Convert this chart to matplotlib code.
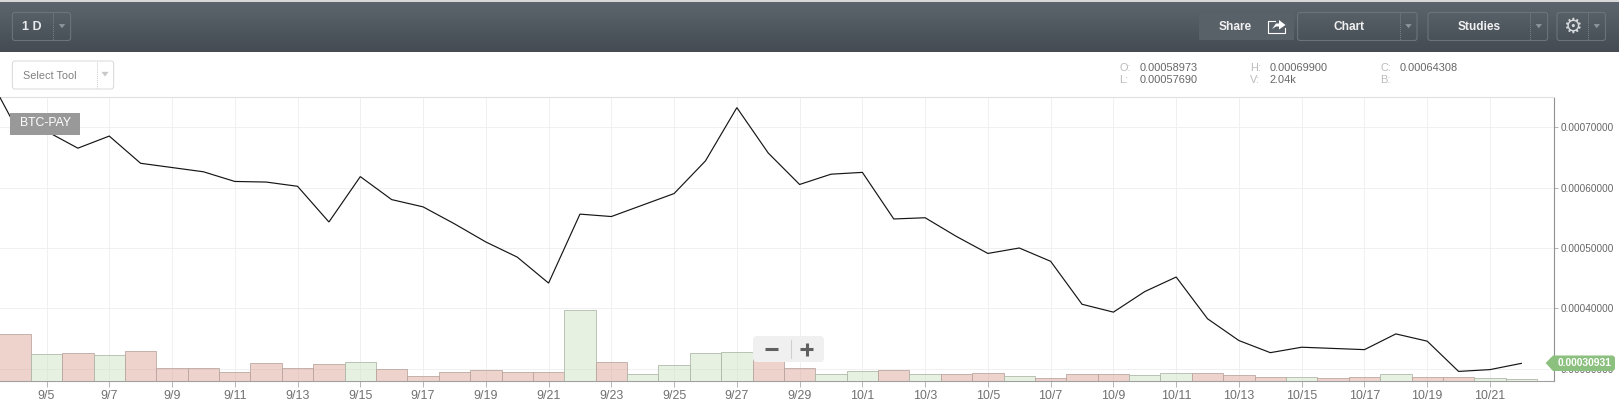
import matplotlib
matplotlib.use("Agg")
import matplotlib.pyplot as plt
import numpy as np
from matplotlib.patches import FancyBboxPatch, Rectangle, Polygon

plt.rcParams['font.family'] = ['Liberation Sans', 'DejaVu Sans']

W, H = 1619, 405

dates = ["9/3","9/4","9/5","9/6","9/7","9/8","9/9","9/10","9/11","9/12","9/13","9/14","9/15","9/16",
         "9/17","9/18","9/19","9/20","9/21","9/22","9/23","9/24","9/25","9/26","9/27","9/28","9/29","9/30",
         "10/1","10/2","10/3","10/4","10/5","10/6","10/7","10/8","10/9","10/10","10/11","10/12","10/13",
         "10/14","10/15","10/16","10/17","10/18","10/19","10/20","10/21","10/22"]
close = [0.000799,0.000702,0.000693,0.000665,0.000685,0.000640,0.000633,0.000626,0.000610,0.000609,
         0.000602,0.000543,0.000618,0.000580,0.000568,0.000540,0.000510,0.000485,0.000442,0.000556,
         0.000552,0.000571,0.000590,0.000644,0.000732,0.000657,0.000605,0.000622,0.000625,0.000548,
         0.000550,0.000519,0.000491,0.000500,0.000478,0.000407,0.000394,0.000428,0.000452,0.000383,
         0.000347,0.000327,0.000336,0.000334,0.000332,0.000358,0.000346,0.000296,0.000299,0.00030931]
vol_dates = dates[1:]
volume = [47.3,27,28,26,30,13,13,9,18,13,17,19,12,5,9,11,9,9,71.3,19,7,16,28,29,24,13,7,10,11,7,7,8,5,3,
          7,7,6,8,8,6,4,4,3,4,7,4,4,3,2]
vol_up = [0,1,0,1,0,0,0,0,0,0,0,1,0,0,0,0,0,0,1,0,1,1,1,1,0,0,1,1,0,1,0,0,1,0,0,0,1,1,0,0,0,1,0,0,1,0,0,1,1]
x_ticks = ["9/5","9/7","9/9","9/11","9/13","9/15","9/17","9/19","9/21","9/23","9/25","9/27","9/29",
           "10/1","10/3","10/5","10/7","10/9","10/11","10/13","10/15","10/17","10/19","10/21"]
y_ticks = [0.0003,0.0004,0.0005,0.0006,0.0007]

fig = plt.figure(figsize=(W/100, H/100), dpi=100, facecolor='white')

# chart geometry
AX_R, AX_T, AX_B = 1553.5, 97, 381
PX_DAY, PX_95 = 31.38, 46.5
rect = [0, (H-AX_B)/H, AX_R/W, (AX_B-AX_T)/H]
ax = fig.add_axes(rect, zorder=1)
idx = {d: i for i, d in enumerate(dates)}
xlim = (idx["9/5"]-PX_95/PX_DAY, idx["9/5"]+(AX_R-PX_95)/PX_DAY)
ax.set_xlim(xlim)
ax.set_ylim(0.0007-(AX_B-127)/60.5*1e-4, 0.0007+(127-AX_T)/60.5*1e-4)
ax.plot([idx[d] for d in dates], close, color='#151515', lw=0.85, solid_joinstyle='miter', zorder=3)
ax.set_xticks([idx[d] for d in x_ticks])
ax.set_xticklabels(x_ticks, fontsize=8.9, color='#707070')
ax.yaxis.tick_right()
ax.set_yticks(y_ticks)
ax.set_yticklabels([f"{v:.8f}" for v in y_ticks], fontsize=7.2, color='#666666')
ax.tick_params(axis='x', length=4, width=0.6, color='#aaaaaa', pad=2.2)
ax.tick_params(axis='y', length=3, width=0.6, color='#aaaaaa', pad=2)
ax.grid(True, color='#eeeeee', lw=0.6)
ax.set_axisbelow(True)
for s, c in (('top', '#e0e0e0'), ('left', 'white'), ('right', '#909090'), ('bottom', '#a0a0a0')):
    ax.spines[s].set_color(c)
    ax.spines[s].set_linewidth(0.8)
ax.spines['left'].set_visible(False)

# volume
av = fig.add_axes(rect, zorder=2)
av.patch.set_alpha(0)
av.axis('off')
av.set_xlim(xlim)
av.set_ylim(0, AX_B-AX_T)
for d, v, u in zip(vol_dates, volume, vol_up):
    face = (0.80, 0.89, 0.76, 0.48) if u else (0.86, 0.62, 0.56, 0.45)
    edge = '#b0b9ab' if u else '#bca8a2'
    av.bar(idx[d], v, width=1.0, facecolor=face, edgecolor=edge, linewidth=0.6)

# interface overlay, in pixel coordinates
ui = fig.add_axes([0, 0, 1, 1], zorder=5)
ui.set_xlim(0, W)
ui.set_ylim(H, 0)
ui.axis('off')
ui.patch.set_alpha(0)

grad = np.linspace(0, 1, 64)[:, None, None]
top_c = np.array([0x5c, 0x65, 0x6d])/255
bot_c = np.array([0x44, 0x4b, 0x52])/255
ui.imshow(top_c*(1-grad)+bot_c*grad, extent=(0, W, 52, 2), aspect='auto', zorder=1)
ui.set_xlim(0, W)
ui.set_ylim(H, 0)
ui.add_patch(Rectangle((0, 0), W, 2, fc='#d8d8d8', ec='none', zorder=1))


def box(x0, x1, y0, y1, ec, fc='none', r=2.5, lw=0.8, z=2, **kw):
    ui.add_patch(FancyBboxPatch((x0, y0), x1-x0, y1-y0, boxstyle=f"round,pad=0,rounding_size={r}",
                                fc=fc, ec=ec, lw=lw, zorder=z, mutation_aspect=1, **kw))


def tri(x, y, c, s=3.2):
    ui.add_patch(Polygon([(x-s, y-s*0.6), (x+s, y-s*0.6), (x, y+s*0.7)], fc=c, ec='none', zorder=3))


BC = '#6b747b'
for x0, x1, xd in ((12.4, 70.6, 53.4), (1297.6, 1417, 1400), (1428, 1547.6, 1530), (1557, 1605.5, 1588)):
    box(x0, x1, 12.5, 40.5, BC)
    ui.plot([xd, xd], [13, 40], color='#7c848a', lw=0.7, ls=(0, (1, 1)), zorder=3)
    tri((xd+x1)/2, 26, '#8d959b')
ui.text(32, 26.5, "1 D", color='#e8eaeb', fontsize=9, fontweight='bold', ha='center', va='center', zorder=4)
ui.add_patch(Rectangle((1199, 13), 94.5, 27, fc='#596168', ec='none', zorder=2))
ui.text(1235, 26.5, "Share", color='#f0f0f0', fontsize=8.6, fontweight='bold', ha='center', va='center', zorder=4)
ui.text(1348.6, 26.5, "Chart", color='#f0f0f0', fontsize=8.6, fontweight='bold', ha='center', va='center', zorder=4)
ui.text(1479, 26.5, "Studies", color='#f0f0f0', fontsize=8.6, fontweight='bold', ha='center', va='center', zorder=4)
ui.plot([1275, 1268, 1268, 1285, 1285], [21, 21, 32.5, 32.5, 28], color='white', lw=0.8, zorder=4)
ui.add_patch(Polygon([(1272, 29), (1276, 23.5), (1279, 23.5), (1279, 20), (1285.5, 25), (1279, 29.5), (1279, 26.5), (1276, 26.5)],
                     fc='white', ec='none', zorder=4))
ui.text(1572.4, 26.5, "\u2699", color='#d6d9db', fontsize=15, family='DejaVu Sans', ha='center', va='center', zorder=4)

box(12.4, 113.6, 61, 89, '#dddddd', fc='white')
ui.plot([97, 97], [62, 88], color='#cccccc', lw=0.7, ls=(0, (1, 1)), zorder=3)
tri(105, 74, '#c8c8c8', s=3.6)
ui.text(23, 75.7, "Select Tool", color='#808080', fontsize=7.8, ha='left', va='center', zorder=4)

for lab, val, xl, xv, y in (("O:", "0.00058973", 1119.6, 1139.6, 67.8), ("L:", "0.00057690", 1119.6, 1139.6, 79.8),
                            ("H:", "0.00069900", 1250, 1269.7, 67.8), ("V:", "2.04k", 1250, 1269.7, 79.8),
                            ("C:", "0.00064308", 1380, 1400, 67.8), ("B:", "", 1380, 1400, 79.8)):
    ui.text(xl, y, lab, color='#bbbbbb', fontsize=7.9, ha='left', va='center', zorder=4)
    ui.text(xv, y, val, color='#666666', fontsize=7.9, ha='left', va='center', zorder=4)

ui.add_patch(Rectangle((10, 113), 70, 22, fc='#999999', ec='none', zorder=4))
ui.text(45, 123.5, "BTC-PAY", color='white', fontsize=8.8, ha='center', va='center', zorder=5)

box(753, 824, 336, 362, 'none', fc='#f0f0f0', r=4)
ui.plot([790.5, 790.5], [340, 358], color='#cfcfcf', lw=0.8, zorder=3)
ui.plot([765, 778], [349, 349], color='#606060', lw=2.2, solid_capstyle='butt', zorder=4)
ui.plot([800, 813], [349, 349], color='#606060', lw=2.2, solid_capstyle='butt', zorder=4)
ui.plot([806.5, 806.5], [342.5, 355.5], color='#606060', lw=2.2, solid_capstyle='butt', zorder=4)

ui.add_patch(Polygon([(1545.6, 363), (1553, 355.5), (1613, 355.5), (1615, 357.5), (1615, 369), (1613, 371), (1553, 371)],
                     fc='#8cc07f', ec='none', zorder=4))
ui.text(1584.5, 363.5, "0.00030931", color='white', fontsize=7.4, fontweight='bold', ha='center', va='center', zorder=5)

fig.savefig("out.png", dpi=100)
